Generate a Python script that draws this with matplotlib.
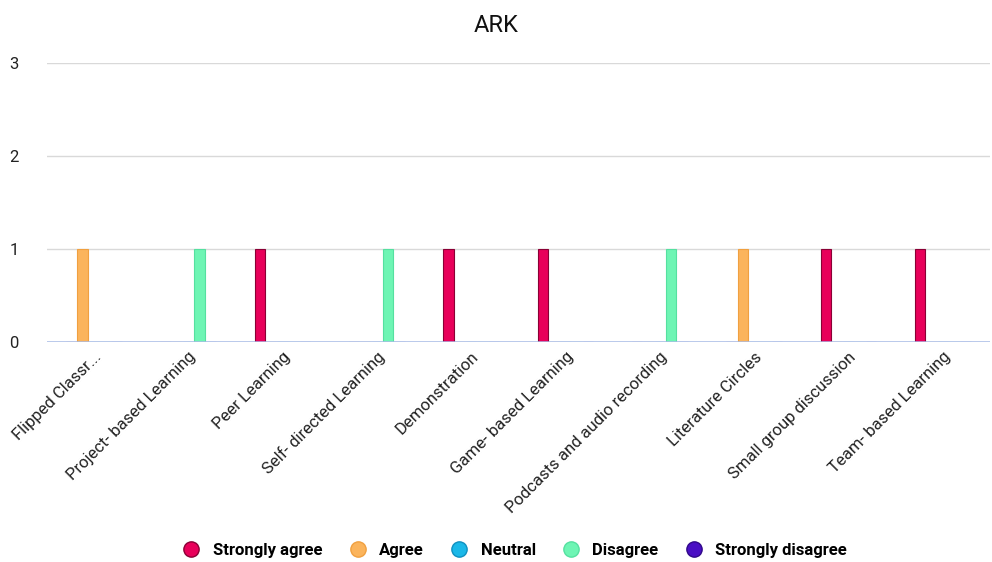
import numpy as np
import matplotlib.pyplot as plt
from matplotlib.lines import Line2D

plt.rcParams['font.family'] = ['Roboto', 'DejaVu Sans']

# data
categories = ["Flipped Classr...", "Project- based Learning", "Peer Learning",
              "Self- directed Learning", "Demonstration", "Game- based Learning",
              "Podcasts and audio recording", "Literature Circles",
              "Small group discussion", "Team- based Learning"]
series_names = ["Strongly agree", "Agree", "Neutral", "Disagree", "Strongly disagree"]
strongly_agree = [0, 0, 1, 0, 1, 1, 0, 0, 1, 1]
agree = [1, 0, 0, 0, 0, 0, 0, 1, 0, 0]
neutral = [0, 0, 0, 0, 0, 0, 0, 0, 0, 0]
disagree = [0, 1, 0, 1, 0, 0, 1, 0, 0, 0]
strongly_disagree = [0, 0, 0, 0, 0, 0, 0, 0, 0, 0]
values = [strongly_agree, agree, neutral, disagree, strongly_disagree]
colors = ["#E8005A", "#FBB45C", "#1BB8E8", "#6EF5B4", "#4A0FC4"]
edges = ["#8a0035", "#f0a040", "#1090c0", "#55e0a0", "#30088a"]

fig = plt.figure(figsize=(9.92, 5.62), dpi=100)
ax = fig.add_axes([0.047, 0.391, 0.951, 0.497])

x = np.arange(len(categories))
w = 0.12
for i, (vals, c, e) in enumerate(zip(values, colors, edges)):
    ax.bar(x + (i - 2) * w, vals, width=w * 0.9, color=c, edgecolor=e,
           linewidth=0.8, zorder=3)

ax.set_xlim(-0.5, len(categories) - 0.5)
ax.set_ylim(0, 3)
ax.set_yticks([0, 1, 2, 3])
ax.yaxis.grid(True, color="#d9d9d9", linewidth=1, zorder=0)
ax.axhline(0, color="#a8bce8", linewidth=1.8, zorder=4)
for s in ax.spines.values():
    s.set_visible(False)
ax.tick_params(axis='both', length=0, labelsize=12, colors="#222222")
ax.tick_params(axis='y', pad=20)
ax.tick_params(axis='x', pad=5)
ax.set_xticks(x)
ax.set_xticklabels(categories, rotation=45, ha='right', rotation_mode='anchor')

fig.suptitle("ARK", y=0.975, fontsize=17, color="#111111")

handles = [Line2D([], [], marker='o', linestyle='', markersize=11,
                  markerfacecolor=c, markeredgecolor=e) for c, e in zip(colors, edges)]
fig.legend(handles, series_names, loc='center', bbox_to_anchor=(0.515, 0.021),
           ncol=5, frameon=False, handletextpad=0.3, columnspacing=1.1,
           prop={'weight': 'bold', 'size': 12})

fig.savefig("out.png", dpi=100)
